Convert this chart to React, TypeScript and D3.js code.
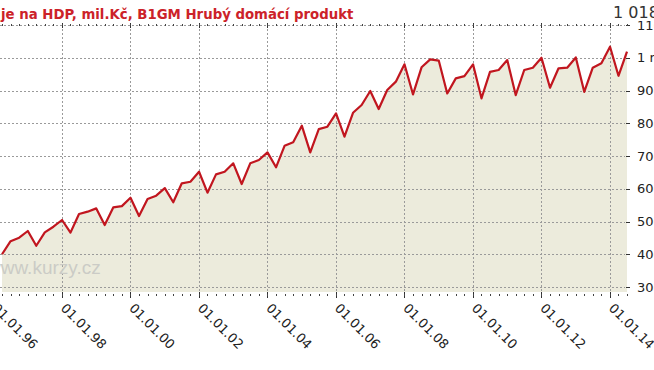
import React, { useEffect, useRef } from "react";
import * as d3 from "d3";

// Texty
const titleText = "je na HDP, mil.Kč, B1GM Hrubý domácí produkt";
const watermarkText = "www.kurzy.cz";

// Čtvrtletní hodnoty HDP, mil. Kč (1996 Q1 .. 2014 Q2)
const firstYear = 1996;
const gdpValues = [
  400000, 440000, 450500, 471000,
  426000, 467000, 484000, 504600,
  466000, 523000, 530000, 540000,
  489000, 543000, 547000, 572700,
  516800, 568700, 578800, 602000,
  558600, 616600, 621500, 652000,
  588000, 644000, 652000, 677700,
  614500, 677700, 687800, 711000,
  665500, 731000, 741800, 792500,
  711000, 782000, 789500, 830000,
  759000, 832000, 855700, 898500,
  843500, 901500, 927000, 980000,
  888000, 970800, 995000, 991000,
  891000, 937000, 944000, 980000,
  876000, 957000, 962600, 993000,
  886000, 962600, 969600, 1000000,
  908500, 967800, 969600, 1001000,
  896000, 969600, 983000, 1033700,
  945000, 1018600,
];

// Popisky os
const yTickValues = [300000, 400000, 500000, 600000, 700000, 800000, 900000, 1000000, 1100000];
const yTickLabels = ["300 000", "400 000", "500 000", "600 000", "700 000", "800 000", "900 000", "1 mil.", "1100 000"];
const xTickYears = [1996, 1998, 2000, 2002, 2004, 2006, 2008, 2010, 2012, 2014];

const App = () => {
  const svgRef = useRef<SVGSVGElement>(null);

  useEffect(() => {
    const width = 654;
    const height = 370;
    const plotLeft = -6.5;
    const plotRight = 627;
    const plotTop = 25;
    const plotBottom = 292;

    const svg = d3.select(svgRef.current);
    svg.selectAll("*").remove();
    svg.attr("width", width).attr("height", height);

    const csLocale = d3.formatLocale({ decimal: ",", thousands: " ", grouping: [3], currency: ["", " Kč"] });
    const fmt = csLocale.format(",d");

    const dates = gdpValues.map((_, i) => new Date(firstYear + Math.floor(i / 4), (i % 4) * 3 + 3, 1));
    const data = gdpValues.map((v, i) => ({ date: dates[i], value: v }));

    const xScale = d3.scaleTime()
      .domain([new Date(firstYear, 0, 1), dates[dates.length - 1]])
      .range([plotLeft, plotRight]);

    const yScale = d3.scaleLinear()
      .domain([300000, 1100000])
      .range([287, plotTop]);

    // Plocha pod čárou
    const area = d3.area<{ date: Date; value: number }>()
      .x(d => xScale(d.date))
      .y0(plotBottom)
      .y1(d => yScale(d.value));

    svg.append("path")
      .datum(data)
      .attr("fill", "#ecebdc")
      .attr("d", area);

    // Mřížka
    const gridColor = "#9a9a9a";
    yTickValues.forEach((v, i) => {
      const yp = Math.round(yScale(v)) + 0.5;
      svg.append("line")
        .attr("x1", 0).attr("x2", plotRight - 2)
        .attr("y1", yp).attr("y2", yp)
        .attr("stroke", gridColor)
        .attr("stroke-dasharray", "2,2");
      svg.append("line")
        .attr("x1", plotRight - 1).attr("x2", plotRight + 3)
        .attr("y1", yp).attr("y2", yp)
        .attr("stroke", "#333");
      svg.append("text")
        .attr("x", 637)
        .attr("y", yScale(v))
        .attr("dy", "0.36em")
        .attr("font-family", "DejaVu Sans, Verdana, sans-serif")
        .attr("font-size", 13)
        .attr("fill", "#222")
        .text(yTickLabels[i]);
    });

    xTickYears.forEach(yr => {
      const xp = Math.round(xScale(new Date(yr, 0, 1))) + 0.5;
      svg.append("line")
        .attr("x1", xp).attr("x2", xp)
        .attr("y1", plotTop).attr("y2", plotBottom)
        .attr("stroke", gridColor)
        .attr("stroke-dasharray", "2,2");
      svg.append("line")
        .attr("x1", xp).attr("x2", xp)
        .attr("y1", plotBottom).attr("y2", plotBottom + 6)
        .attr("stroke", "#333");
      svg.append("line")
        .attr("x1", xp).attr("x2", xp)
        .attr("y1", plotTop - 2).attr("y2", plotTop + 3)
        .attr("stroke", "#333");
      const tx = xScale(new Date(yr, 0, 1)) - 2;
      const ty = 309;
      svg.append("text")
        .attr("transform", `translate(${tx},${ty}) rotate(45)`)
        .attr("font-family", "DejaVu Sans, Verdana, sans-serif")
        .attr("font-size", 13)
        .attr("fill", "#222")
        .text(d3.timeFormat("%d.%m.%y")(new Date(yr, 0, 1)));
    });

    // Drobné čtvrtletní značky
    d3.timeMonth.every(3)!.range(new Date(firstYear, 0, 1), new Date(2014, 7, 1)).forEach(d => {
      const xp = Math.round(xScale(d)) + 0.5;
      svg.append("line")
        .attr("x1", xp).attr("x2", xp)
        .attr("y1", plotBottom + 2).attr("y2", plotBottom + 4)
        .attr("stroke", "#444");
      svg.append("line")
        .attr("x1", xp).attr("x2", xp)
        .attr("y1", plotTop - 1).attr("y2", plotTop + 1)
        .attr("stroke", "#444");
    });

    // Vodoznak
    svg.append("text")
      .attr("x", -13)
      .attr("y", 274)
      .attr("font-family", "Liberation Sans, Arial, sans-serif")
      .attr("font-size", 19)
      .attr("fill", "#cbcbc6")
      .text(watermarkText);

    // Čára
    const line = d3.line<{ date: Date; value: number }>()
      .x(d => xScale(d.date))
      .y(d => yScale(d.value));

    svg.append("path")
      .datum(data)
      .attr("fill", "none")
      .attr("stroke", "#c1161f")
      .attr("stroke-width", 2.2)
      .attr("stroke-linejoin", "round")
      .attr("d", line);

    // Nadpis
    svg.append("text")
      .attr("x", 1)
      .attr("y", 19)
      .attr("font-family", "DejaVu Sans, Verdana, sans-serif")
      .attr("font-weight", "bold")
      .attr("font-size", 13.3)
      .attr("fill", "#cc2229")
      .text(titleText);

    // Poslední hodnota
    svg.append("text")
      .attr("x", 613)
      .attr("y", 18)
      .attr("font-family", "DejaVu Sans, Verdana, sans-serif")
      .attr("font-size", 16)
      .attr("fill", "#333")
      .text(fmt(gdpValues[gdpValues.length - 1]));
  }, []);

  return (
    <svg
      ref={svgRef}
      style={{ position: "absolute", left: 0, top: 0, display: "block", background: "#fff" }}
    />
  );
};

export default App;
